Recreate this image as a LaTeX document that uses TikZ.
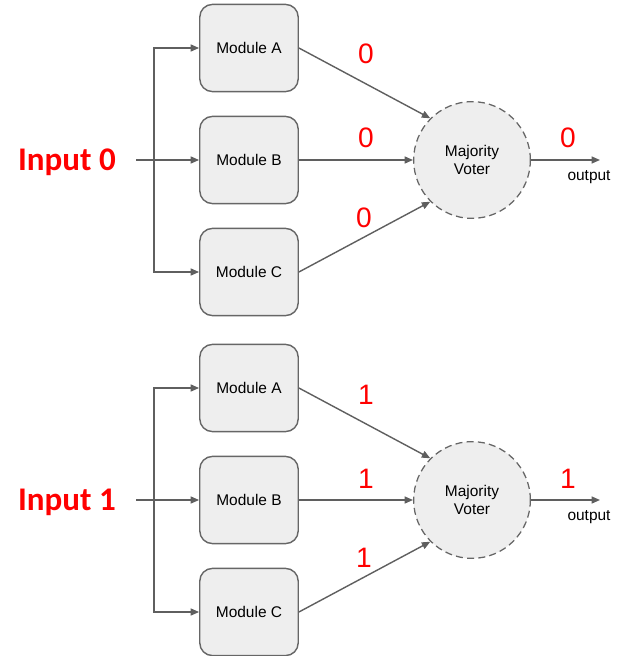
\documentclass[tikz,border=0pt]{standalone}
\usepackage{fontspec}
\setmainfont{Liberation Sans}
\newfontfamily\inputfont{Carlito}
\usetikzlibrary{arrows.meta}
\definecolor{linegray}{HTML}{5F5F5F}
\definecolor{boxgray}{HTML}{EEEEEE}
\definecolor{bordergray}{HTML}{666666}
\tikzset{
  module/.style = {draw = bordergray, fill = boxgray, line width = 1pt, rounded corners = 9pt,
    minimum width = 70pt, minimum height = 62pt, font = \fontsize{11}{13}\selectfont},
  voter/.style = {circle, draw = bordergray, fill = boxgray, dash pattern = on 5pt off 3pt,
    line width = 0.9pt, minimum size = 83pt, align = center, font = \fontsize{11}{12.5}\selectfont},
  signal/.style = {-{Triangle[length = 6pt, width = 5pt]}, draw = linegray, line width = 1pt},
  bit/.style = {text = red, anchor = base, inner sep = 0pt, font = \fontsize{20}{20}\selectfont},
}
\begin{document}
\begin{tikzpicture}[x = 0.025cm, y = -0.025cm]
  \useasboundingbox (0,0) rectangle (621,656);
  \foreach \half/\yoff in {0/0, 1/340} {
    \begin{scope}[shift = {(0,\yoff)}]
      % modules and voter
      \node[module] (modA\half) at (249,48) {Module A};
      \node[module] (modB\half) at (249,160) {Module B};
      \node[module] (modC\half) at (249,272) {Module C};
      \node[voter] (voter\half) at (472,160) {Majority\\Voter};
      \node[text = red, anchor = base, inner sep = 0pt,
        font = \inputfont\bfseries\fontsize{23.5}{24}\selectfont] (in\half) at (67,170) {Input \half};
      \coordinate (start\half) at (136,160);
      \coordinate (split\half) at (154,160);
      \coordinate (out\half) at (600,160);
      % connectors
      \draw[signal] (start\half) -- (modB\half);
      \draw[signal] (split\half) |- (modA\half);
      \draw[signal] (split\half) |- (modC\half);
      \draw[signal] (modA\half.east) -- (voter\half.north west);
      \draw[signal] (modB\half.east) -- (voter\half.west);
      \draw[signal] (modC\half.east) -- (voter\half.south west);
      \draw[signal] (voter\half.east) -- (out\half);
      % labels
      \node[anchor = base, inner sep = 0pt, font = \fontsize{11}{13}\selectfont] (outtext\half) at (589,180) {output};
      \node[bit] (bitA\half) at (366,64) {\half};
      \node[bit] (bitB\half) at (366,148) {\half};
      \node[bit] (bitC\half) at (364,227) {\half};
      \node[bit] (bitOut\half) at (568,148) {\half};
    \end{scope}
  }
\end{tikzpicture}
\end{document}
